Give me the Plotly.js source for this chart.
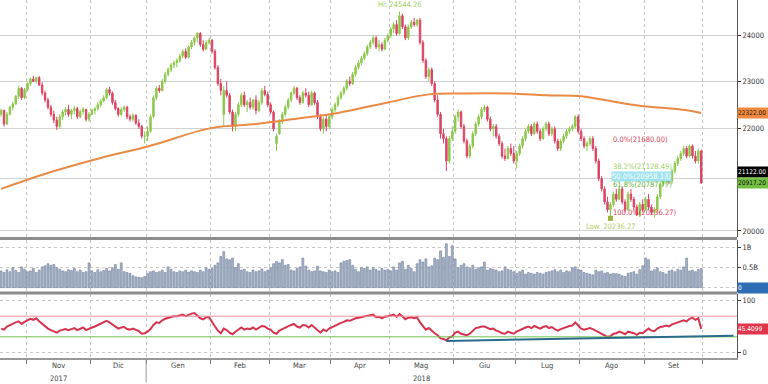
<!DOCTYPE html>
<html><head><meta charset="utf-8">
<script src="https://cdn.plot.ly/plotly-3.0.1.min.js"></script>
<style>html,body{margin:0;padding:0;background:#fff;}#chart{width:768px;height:384px;}</style>
</head><body><div id="chart"></div>
<script>
// ---------- DATA (FTSE MIB daily, trading-day index) ----------
const monthLabels = ['Ott','Nov','Dic','Gen','Feb','Mar','Apr','Mag','Giu','Lug','Ago','Set'];
const monthTradingDays = [9,22,19,22,20,21,20,22,21,22,22,20];
const yearLabelMonths = ['Nov','Mag'];
const yearLabelTexts = ['2017','2018'];

const openP = [
22300,22380,22100,22300,22450,22520,22680,22850,22650,
22820,22950,23050,23000,23080,22920,22750,22600,22450,22300,22180,22050,22250,22350,22400,22300,22380,22420,22250,22360,22400,22200,
22300,22380,22420,22500,22580,22650,22820,22750,22550,22420,22300,22400,22450,22250,22200,22280,22120,22050,21850,
21850,21950,22250,22650,22850,22800,23000,23150,23250,23350,23400,23450,23550,23650,23520,23750,23850,23950,24050,23800,23700,23850,
23900,23650,23300,22950,22300,22800,22700,22350,22050,22300,22500,22700,22500,22550,22450,22600,22380,22550,22800,22720,
22500,22350,21700,21900,22150,22300,22450,22600,22750,22850,22650,22550,22750,22700,22500,22750,22550,22250,22000,22200,22050,
22250,22400,22500,22650,22750,22850,23000,22950,23150,23300,23400,23500,23600,23750,23850,23950,23750,23800,23700,23900,
24000,24150,24250,24050,24450,24200,23950,24200,24300,24250,24350,23850,23450,23100,23250,22950,22600,22300,21900,21800,21350,21800,
21950,22250,22350,22050,21750,21450,21650,21900,22100,22250,22400,22450,22200,22000,22050,21850,21700,21450,21400,21600,21500,
21350,21500,21650,21800,21950,22050,21900,22100,21950,21800,22000,22100,21900,22000,21750,21600,21750,21850,21950,22000,22050,22250,
21950,21800,21650,21700,21800,21600,21350,21000,20800,20550,20400,20500,20700,20600,20800,20550,20400,20700,20600,20450,20300,20500,
20400,20600,20450,20350,20400,20650,20900,20950,21050,20950,21150,21300,21400,21500,21600,21450,21650,21450,21350,21550];

const highP = [
22420,22400,22350,22480,22560,22700,22900,22880,22860,
22980,23080,23120,23100,23110,22980,22800,22650,22500,22380,22250,22300,22400,22450,22500,22420,22480,22460,22400,22450,22420,22350,
22420,22450,22560,22620,22700,22860,22880,22780,22600,22450,22450,22480,22480,22300,22320,22300,22200,22080,21950,
22050,22300,22700,22900,22920,23050,23200,23300,23400,23450,23500,23600,23700,23720,23780,23900,23980,24080,24080,23900,23900,23950,
23920,23700,23350,23050,22900,23000,22750,22400,22350,22550,22750,22780,22600,22650,22620,22700,22600,22850,22900,22780,
22550,22380,21900,22200,22350,22500,22650,22780,22900,22880,22700,22800,22850,22780,22800,22780,22600,22300,22250,22300,22300,
22450,22550,22700,22800,22900,23050,23100,23200,23350,23450,23550,23650,23800,23900,24000,24000,23900,23850,23950,24050,
24200,24300,24350,24544.26,24500,24250,24250,24350,24400,24380,24400,23900,23500,23300,23300,23000,22700,22350,22000,21850,21850,22050,
22300,22400,22380,22100,21800,21700,21950,22150,22300,22450,22500,22480,22250,22100,22100,21900,21750,21600,21650,21700,21650,
21550,21700,21850,22000,22100,22100,22150,22150,22000,22050,22150,22150,22050,22050,21800,21800,21900,22000,22050,22100,22280,22300,
22000,21850,21750,21850,21850,21650,21400,21050,20850,20650,20550,20750,20800,20850,20850,20600,20750,20800,20650,20500,20550,20600,
20650,20700,20500,20450,20700,20950,21050,21100,21080,21200,21350,21450,21550,21650,21650,21680,21680,21550,21600,21580];

const lowP = [
22250,22050,22080,22280,22380,22500,22620,22600,22620,
22780,22900,22980,22950,22900,22700,22550,22400,22250,22120,21980,22000,22180,22280,22250,22200,22300,22200,22220,22300,22150,22150,
22280,22300,22380,22450,22550,22620,22700,22500,22380,22250,22260,22350,22200,22150,22150,22080,22000,21800,21700,
21750,21920,22220,22600,22750,22780,22950,23100,23200,23280,23300,23400,23500,23480,23500,23700,23780,23850,23750,23650,23680,23800,
23600,23250,22900,22700,22050,22650,22300,21950,21950,22250,22450,22450,22350,22400,22400,22300,22350,22500,22680,22450,
22300,21950,21550,21880,22100,22250,22400,22550,22700,22600,22500,22520,22650,22450,22480,22500,22200,21950,21900,21950,22000,
22200,22350,22450,22600,22700,22800,22900,22920,23100,23250,23350,23450,23550,23700,23800,23700,23650,23650,23680,23850,
23950,24050,24000,24020,24150,23900,23900,24150,24200,24200,23800,23400,23050,23000,22900,22550,22250,21800,21700,21150,21300,21750,
21900,22150,22000,21700,21400,21400,21600,21850,22050,22200,22350,22150,21950,21850,21800,21650,21400,21350,21380,21450,21300,
21200,21450,21600,21750,21900,21850,21880,21900,21750,21780,21950,21850,21850,21700,21550,21550,21700,21800,21900,21950,22000,21900,
21750,21600,21550,21650,21550,21300,20950,20750,20500,20350,20236.27,20450,20550,20580,20500,20350,20380,20550,20400,20280,20260,20350,
20380,20400,20300,20250,20350,20600,20850,20880,20900,20900,21100,21250,21350,21450,21400,21420,21400,21300,21300,20900];

const closeP = [
22380,22100,22300,22450,22520,22680,22850,22650,22820,
22950,23050,23000,23080,22920,22750,22600,22450,22300,22180,22050,22250,22350,22400,22300,22380,22420,22250,22360,22400,22200,22300,
22380,22420,22500,22580,22650,22820,22750,22550,22420,22300,22400,22450,22250,22200,22280,22120,22050,21850,21853,
21950,22250,22650,22850,22800,23000,23150,23250,23350,23400,23450,23550,23650,23520,23750,23850,23950,24050,23800,23700,23850,23900,
23650,23300,22950,22800,22800,22700,22350,22050,22300,22500,22700,22500,22550,22450,22600,22380,22550,22800,22720,22500,
22350,22000,21850,22150,22300,22450,22600,22750,22850,22650,22550,22750,22700,22500,22750,22550,22250,22000,22200,22050,22250,
22400,22500,22650,22750,22850,23000,22950,23150,23300,23400,23500,23600,23750,23850,23950,23750,23800,23700,23900,24000,
24150,24250,24050,24450,24200,23950,24200,24300,24250,24350,23850,23450,23100,23250,22950,22600,22300,21900,21800,21350,21800,21950,
22250,22350,22050,21750,21450,21650,21900,22100,22250,22400,22450,22200,22000,22050,21850,21700,21450,21400,21600,21500,21350,
21500,21650,21800,21950,22050,21900,22100,21950,21800,22000,22100,21900,22000,21750,21600,21750,21850,21950,22000,22050,22250,21950,
21800,21650,21700,21800,21600,21350,21000,20800,20550,20400,20500,20700,20600,20800,20550,20400,20700,20600,20450,20300,20500,20400,
20600,20450,20350,20400,20650,20900,20950,21050,20950,21150,21300,21400,21500,21600,21450,21650,21450,21350,21550,20917.2];

const volumeB = [
0.42,0.38,0.45,0.40,0.50,0.43,0.38,0.52,0.46,
0.40,0.42,0.48,0.38,0.44,0.52,0.55,0.60,0.56,0.58,0.50,0.46,0.42,0.40,0.45,0.43,0.48,0.40,0.44,0.38,0.40,0.62,
0.42,0.38,0.45,0.40,0.43,0.48,0.42,0.50,0.58,0.46,0.62,0.40,0.38,0.36,0.30,0.27,0.26,0.25,0.28,
0.36,0.40,0.42,0.38,0.40,0.44,0.38,0.52,0.46,0.40,0.38,0.42,0.40,0.44,0.39,0.42,0.40,0.38,0.44,0.40,0.50,0.46,
0.48,0.56,0.62,0.78,0.90,0.72,0.70,0.74,0.50,0.60,0.44,0.46,0.40,0.38,0.44,0.40,0.42,0.47,0.40,0.44,
0.50,0.60,0.66,0.62,0.70,0.56,0.58,0.44,0.42,0.48,0.52,0.74,0.54,0.44,0.40,0.42,0.54,0.42,0.40,0.38,0.44,
0.40,0.42,0.38,0.62,0.66,0.68,0.70,0.56,0.46,0.40,0.50,0.48,0.52,0.44,0.50,0.46,0.42,0.48,0.44,0.46,
0.42,0.52,0.44,0.62,0.66,0.46,0.56,0.48,0.40,0.60,0.70,0.64,0.72,0.52,0.55,0.74,0.70,0.92,0.76,1.10,0.78,1.05,
0.72,0.50,0.56,0.60,0.52,0.48,0.56,0.46,0.50,0.52,0.64,0.44,0.48,0.46,0.44,0.40,0.42,0.52,0.46,0.44,0.40,
0.36,0.40,0.44,0.34,0.38,0.36,0.34,0.38,0.36,0.34,0.38,0.40,0.42,0.45,0.40,0.44,0.38,0.42,0.40,0.50,0.52,0.46,
0.44,0.38,0.36,0.34,0.32,0.44,0.40,0.42,0.36,0.38,0.34,0.36,0.35,0.34,0.30,0.28,0.36,0.38,0.40,0.34,0.45,0.55,
0.74,0.70,0.42,0.45,0.50,0.40,0.38,0.34,0.42,0.44,0.40,0.46,0.44,0.52,0.74,0.42,0.44,0.40,0.46,0.48];

const rsi14 = [
46,44,50,53,56,58,60,55,59,
62,65,63,66,60,55,50,46,43,40,38,42,44,45,43,45,47,43,46,48,43,46,
48,50,53,56,58,61,58,54,50,46,48,49,45,44,46,43,41,36,37,
40,45,53,58,57,62,65,67,69,70,70,72,73,70,73,75,76,70,66,64,68,68,
58,50,42,37,46,43,38,35,40,44,48,44,46,45,48,44,47,51,50,46,
44,38,36,42,45,48,50,53,55,50,48,53,52,48,53,48,42,38,44,41,46,
49,51,54,57,59,62,61,64,66,67,68,69,71,72,73,68,69,66,69,70,
72,73,69,74,70,64,67,68,66,68,58,50,44,47,41,37,33,27,26,23,29,31,
38,40,36,35,33,36,42,47,48,50,50,47,45,46,42,40,37,36,40,38,36,
40,43,46,48,50,47,51,48,46,49,51,47,49,45,42,45,47,50,51,52,58,52,
46,44,45,47,45,42,38,35,32,30,31,36,37,40,38,35,40,39,37,34,38,37,
42,46,42,41,46,49,50,52,50,54,56,58,60,62,60,65,67,63,66,45.4099];

// 200-day moving average, read at these trading-day indices
const maIdx = [0,17,34,50,72,87,102,115,132,146,157,174,186,198,205,218,232,239];
const maVal = [20800,21130,21410,21640,22020,22100,22220,22330,22550,22720,22740,22740,22700,22680,22610,22480,22400,22330];

// levels / studies
const supportLevel = 21122.00;
const lastPrice = 20917.20;
const maLast = 22322.00;
const rsiLast = 45.4099;
const volLast = 0;
const fibHigh = 21680.00;
const fibLow = 20236.27;
const fibRatios = [0, 0.382, 0.5, 0.618, 1];
const trendEndIdx = 242.7, trendEndPrice = 20690;   // dashed resistance line end
const rsiTrendIdx = [152, 250], rsiTrendVal = [22, 32];
const rsiUpper = 70, rsiLower = 30;
const priceTicks = [20000,21000,22000,23000,24000];
const priceTickText = ['20000','','22000','23000','24000'];   // 21000 is hidden behind the value boxes

// ---------- BUILD ----------
const N = closeP.length;
[openP,highP,lowP,volumeB,rsi14].forEach((a,k)=>{ if(a.length!==N) throw new Error('length mismatch '+k+': '+a.length+' vs '+N); });
const dayIdx = closeP.map((_,i)=>i);
let hiIdx=0, loIdx=0;
highP.forEach((v,i)=>{ if(v>highP[hiIdx]) hiIdx=i; });
lowP.forEach((v,i)=>{ if(v<lowP[loIdx]) loIdx=i; });
const hiValue = highP[hiIdx], loValue = lowP[loIdx];

const bounds=[], centers=[]; let s=-0.5;
monthTradingDays.forEach(d=>{ centers.push(s+d/2); s+=d; bounds.push(s); });
const X_MIN=-0.38, X_MAX=251.2;
const L = Math.log10;

const FONT = '"Liberation Sans Narrow","DejaVu Sans Condensed","Liberation Sans",Arial,sans-serif';
const GREEN='#8CC84B', RED='#DA4563';

const traces = [
 {type:'candlestick', x:dayIdx, open:openP, high:highP, low:lowP, close:closeP, xaxis:'x', yaxis:'y',
  increasing:{line:{color:GREEN,width:1},fillcolor:GREEN}, decreasing:{line:{color:RED,width:1},fillcolor:RED},
  whiskerwidth:0, hoverinfo:'skip', showlegend:false},
 {type:'scatter', mode:'lines', x:maIdx, y:maVal, xaxis:'x', yaxis:'y', line:{color:'#EA8A45',width:2,shape:'spline',smoothing:1}, hoverinfo:'skip'},
 {type:'scatter', mode:'markers', x:[loIdx], y:[loValue], xaxis:'x', yaxis:'y', marker:{symbol:'square',size:5,color:'#A0AE3A'}, hoverinfo:'skip'},
 {type:'bar', x:dayIdx, y:volumeB, xaxis:'x', yaxis:'y2', marker:{color:'#A7B4CA', line:{color:'#6F7F9B',width:0.6}}, hoverinfo:'skip'},
 {type:'scatter', mode:'lines', x:dayIdx, y:rsi14, xaxis:'x', yaxis:'y3', line:{color:'#D6344E',width:2}, hoverinfo:'skip'}
];

const fibColors = ['#D9415A','#9ED264','#9FE3EE','#6CC63F','#D9415A'];
const fibWidths = [1.5,1,4,2,1.5];
const shapes = [];
const annotations = [];
fibRatios.forEach((r,k)=>{
  const lvl = fibHigh - r*(fibHigh-fibLow);
  shapes.push({type:'line', xref:'x', yref:'y', x0:loIdx, x1:X_MAX, y0:L(lvl), y1:L(lvl), line:{color:fibColors[k],width:fibWidths[k]}});
  const txt = (r*100).toFixed(1)+'%('+(Math.floor(lvl*100+1e-6)/100).toFixed(2)+')';
  const a = {xref:'x', yref:'y', x:loIdx, y:L(lvl), xanchor:'left', yanchor:'bottom', text:txt, showarrow:false,
    font:{family:FONT,size:7.5,color:fibColors[k]}, xshift:1, yshift:-1};
  if(k===2){ a.font.color='#ffffff'; a.bgcolor='#9FE3EE'; a.borderpad=0; }
  if(k===3){ a.font.color='#5DB52F'; }
  annotations.push(a);
});
// support line
shapes.push({type:'line', xref:'paper', yref:'y', x0:0, x1:1, y0:L(supportLevel), y1:L(supportLevel), line:{color:'#000',width:1.5}});
// dashed trend line
shapes.push({type:'line', xref:'x', yref:'y', x0:hiIdx, y0:L(hiValue), x1:trendEndIdx, y1:L(trendEndPrice), line:{color:'#6688A8',width:2,dash:'dash'}});
// RSI bands & trendline
shapes.push({type:'line', xref:'paper', yref:'y3', x0:0, x1:1, y0:rsiUpper, y1:rsiUpper, line:{color:'#F09098',width:1}});
shapes.push({type:'line', xref:'paper', yref:'y3', x0:0, x1:1, y0:rsiLower, y1:rsiLower, line:{color:'#6CC24A',width:1}});
shapes.push({type:'line', xref:'x', yref:'y3', x0:rsiTrendIdx[0], x1:rsiTrendIdx[1], y0:rsiTrendVal[0], y1:rsiTrendVal[1], line:{color:'#2B6A8C',width:2}});
// panel separators
shapes.push({type:'line', xref:'paper', yref:'paper', x0:0, x1:1, y0:0.3338, y1:0.3338, line:{color:'#8c8c8c',width:3}});
shapes.push({type:'line', xref:'paper', yref:'paper', x0:0, x1:1, y0:0.1816, y1:0.1816, line:{color:'#8c8c8c',width:3}});
// year separator below axis
shapes.push({type:'line', xref:'x', yref:'paper', x0:bounds[2], x1:bounds[2], y0:-0.006, y1:-0.068, line:{color:'#999',width:1}});

// Hi / Low labels
annotations.push({xref:'x', yref:'y', x:hiIdx, y:L(hiValue), yanchor:'bottom', xanchor:'center', yshift:1,
  text:'Hi: '+hiValue.toFixed(2), showarrow:false, font:{family:FONT,size:7.5,color:'#9CCF5A'}});
annotations.push({xref:'x', yref:'y', x:loIdx, y:L(loValue), yanchor:'top', xanchor:'center', yshift:-2,
  text:'Low: '+loValue.toFixed(2), showarrow:false, font:{family:FONT,size:7.5,color:'#B4CC66'}});

// right-side value boxes
function box(yref, y, text, bg, fg){
  annotations.push({xref:'paper', x:1, xanchor:'left', xshift:0, yref:yref, y:y, yanchor:'middle', text:text, showarrow:false,
    bgcolor:bg, borderpad:0, width:30, height:10, align:'left', font:{family:FONT,size:6.5,color:fg}});
}
box('y', L(maLast), maLast.toFixed(2), '#F08A3E', '#2a1a0a');
box('y', L(supportLevel), supportLevel.toFixed(2), '#000000', '#ffffff');
box('y', L(lastPrice), lastPrice.toFixed(2), '#74C043', '#111111');
box('y2', volLast, String(volLast), '#2F6DB5', '#ffffff');
box('y3', rsiLast, rsiLast.toFixed(4), '#E0354B', '#ffffff');

// month & year labels
monthLabels.forEach((m,k)=>{
  if(k===0) return;
  annotations.push({xref:'x', yref:'paper', x:centers[k], y:-0.022, yanchor:'middle', text:m, showarrow:false, font:{family:FONT,size:7.5,color:'#444'}});
});
yearLabelMonths.forEach((m,k)=>{
  annotations.push({xref:'x', yref:'paper', x:centers[monthLabels.indexOf(m)], y:-0.056, yanchor:'middle', text:yearLabelTexts[k], showarrow:false, font:{family:FONT,size:7.5,color:'#444'}});
});

const yCommon = {side:'right', anchor:'x', ticks:'outside', ticklen:3, tickcolor:'#333', showline:true, linecolor:'#555', linewidth:1,
  zeroline:false, tickfont:{family:FONT,size:7.5,color:'#333'}, fixedrange:true};

const layout = {
  width:768, height:384, margin:{l:0,r:31,t:0,b:26},
  paper_bgcolor:'#fff', plot_bgcolor:'#fff', showlegend:false, bargap:0.35,
  font:{family:FONT,size:8,color:'#333'},
  xaxis:{range:[X_MIN,X_MAX], anchor:'y3', tickmode:'array', tickvals:bounds, showticklabels:false, ticks:'outside', ticklen:4, tickcolor:'#777',
    showgrid:true, gridcolor:'#c4c4c4', griddash:'dot', gridwidth:1, zeroline:false, showline:true, linecolor:'#999', linewidth:2,
    rangeslider:{visible:false}, fixedrange:true},
  yaxis:Object.assign({}, yCommon, {domain:[0.338,1], type:'log', range:[4.29857,4.39468], tickmode:'array', tickvals:priceTicks,
    ticktext:priceTickText, showgrid:true, gridcolor:'#d2d2d2', gridwidth:1}),
  yaxis2:Object.assign({}, yCommon, {domain:[0.1844,0.3296], range:[-0.1075,1.1925], tickmode:'array', tickvals:[0,0.5,1],
    ticktext:['','0.5B','1B'], showgrid:true, gridcolor:'#c8c8c8', griddash:'dot'}),
  yaxis3:Object.assign({}, yCommon, {domain:[0,0.1788], range:[-11,113], tickmode:'array', tickvals:[0,100],
    ticktext:['0','100'], showgrid:true, gridcolor:'#c8c8c8', griddash:'dot'}),
  shapes:shapes, annotations:annotations
};

Plotly.newPlot('chart', traces, layout, {displayModeBar:false, staticPlot:true});
</script>
</body></html>
